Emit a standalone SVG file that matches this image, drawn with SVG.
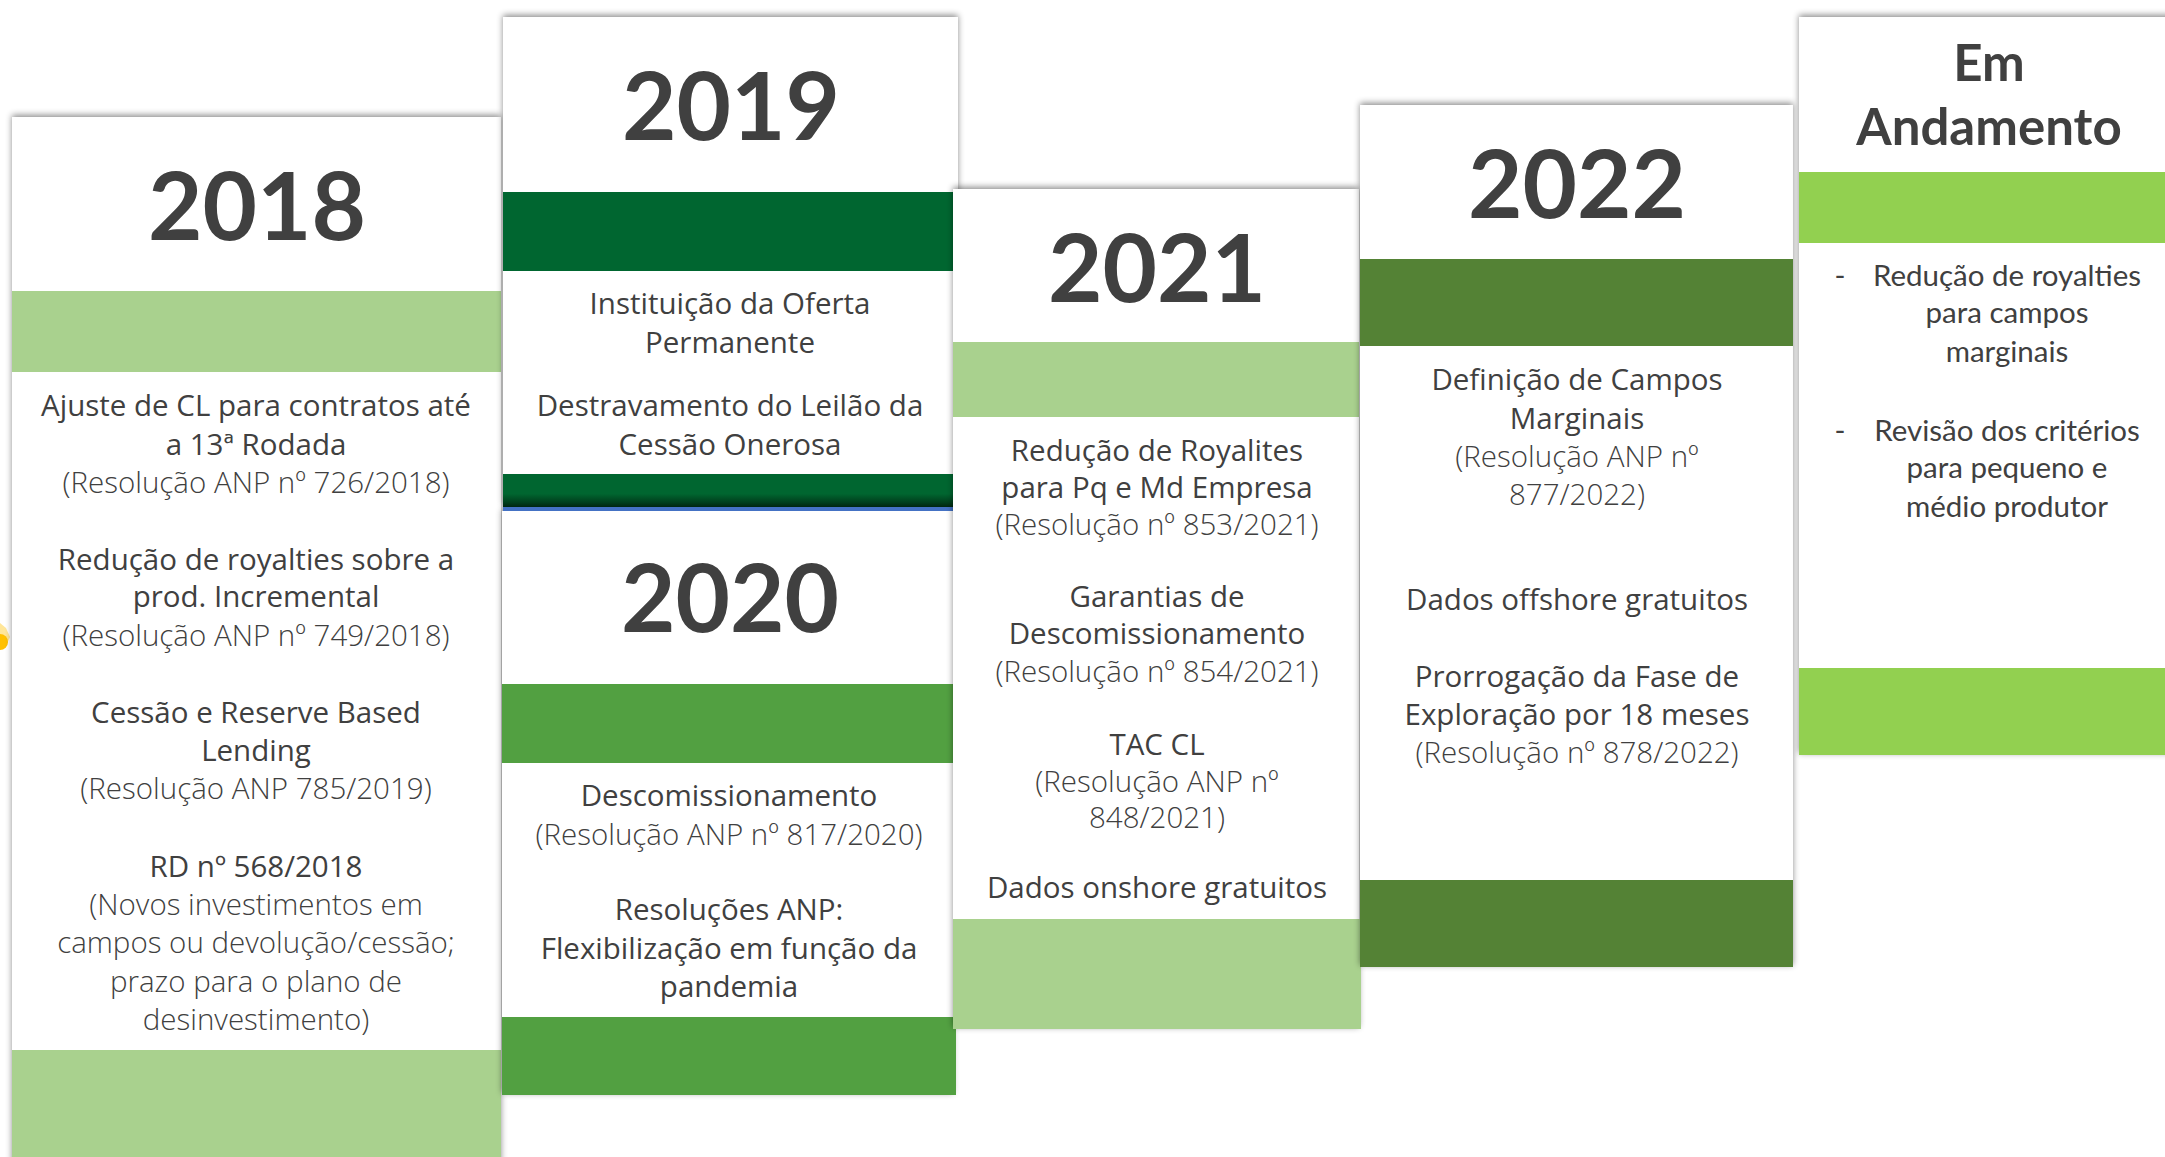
<svg xmlns="http://www.w3.org/2000/svg" width="2165" height="1157" viewBox="0 0 2165 1157">
<defs>
<style>
.bg{fill:#ffffff}
.yr{font-family:Lato,"Open Sans",sans-serif;font-weight:700;font-size:94px;fill:#404040;text-anchor:middle}
.t{font-family:"Open Sans","Noto Sans",sans-serif;font-size:29.5px;fill:#404040;text-anchor:middle}
.l{font-weight:300}
.c{font-family:Lato,"Open Sans",sans-serif;font-size:29.5px;fill:#404040;text-anchor:middle}
.ch{font-family:Lato,"Open Sans",sans-serif;font-weight:700;font-size:51px;fill:#404040;text-anchor:middle}
.lg{fill:#A9D18E}
.dg{fill:#006630}
.mg{fill:#52A041}
.og{fill:#548235}
.bg2{fill:#92D050}
</style>
<filter id="sh" x="-10%" y="-10%" width="120%" height="120%">
<feDropShadow dx="0" dy="-2" stdDeviation="3" flood-color="#000" flood-opacity="0.45"/>
</filter>
<linearGradient id="dgb" x1="0" y1="0" x2="0" y2="1">
<stop offset="0" stop-color="#006630"/>
<stop offset="0.6" stop-color="#006630"/>
<stop offset="1" stop-color="#002a12"/>
</linearGradient>
</defs>
<rect width="2165" height="1157" fill="#ffffff"/>

<g id="icon">
<polygon points="0,623 6,628 10,637 6,646 0,650" fill="#FFE699"/>
<circle cx="0" cy="642" r="8" fill="#FFC000"/>
</g>

<g id="card-2018">
<rect class="bg" x="12" y="117" width="489" height="1060" filter="url(#sh)"/>
<rect class="lg" x="12" y="291" width="489" height="81"/>
<rect class="lg" x="12" y="1050" width="489" height="107"/>
<text class="yr" x="257" y="240">2018</text>
<text class="t" x="256" y="416">Ajuste de CL para contratos até</text>
<text class="t" x="256" y="455">a 13ª Rodada</text>
<text class="t l" x="256" y="493">(Resolução ANP nº 726/2018)</text>
<text class="t" x="256" y="570">Redução de royalties sobre a</text>
<text class="t" x="256" y="607">prod. Incremental</text>
<text class="t l" x="256" y="646">(Resolução ANP nº 749/2018)</text>
<text class="t" x="256" y="723">Cessão e Reserve Based</text>
<text class="t" x="256" y="761">Lending</text>
<text class="t l" x="256" y="799">(Resolução ANP 785/2019)</text>
<text class="t" x="256" y="877">RD nº 568/2018</text>
<text class="t l" x="256" y="915">(Novos investimentos em</text>
<text class="t l" x="256" y="953">campos ou devolução/cessão;</text>
<text class="t l" x="256" y="992">prazo para o plano de</text>
<text class="t l" x="256" y="1030">desinvestimento)</text>
</g>

<g id="card-2019">
<rect class="bg" x="503" y="17" width="455" height="490" filter="url(#sh)"/>
<rect class="dg" x="503" y="192" width="450" height="79"/>
<rect x="503" y="474" width="450" height="33" fill="url(#dgb)"/>
<text class="yr" x="731" y="140">2019</text>
<text class="t" x="730" y="314">Instituição da Oferta</text>
<text class="t" x="730" y="353">Permanente</text>
<text class="t" x="730" y="416">Destravamento do Leilão da</text>
<text class="t" x="730" y="455">Cessão Onerosa</text>
</g>

<g id="card-2020">
<rect class="bg" x="502" y="511" width="451" height="584" filter="url(#sh)"/>
<rect x="503" y="507" width="450" height="4" fill="#4472C4"/>
<rect class="mg" x="502" y="684" width="451" height="79"/>
<rect class="mg" x="502" y="1017" width="454" height="78"/>
<text class="yr" x="730" y="632">2020</text>
<text class="t" x="729" y="806">Descomissionamento</text>
<text class="t l" x="729" y="845">(Resolução ANP nº 817/2020)</text>
<text class="t" x="729" y="920">Resoluções ANP:</text>
<text class="t" x="729" y="959">Flexibilização em função da</text>
<text class="t" x="729" y="997">pandemia</text>
</g>

<g id="card-2021">
<rect class="bg" x="953" y="189" width="406" height="840" filter="url(#sh)"/>
<rect class="lg" x="953" y="342" width="406" height="75"/>
<rect class="lg" x="953" y="919" width="408" height="110"/>
<text class="yr" x="1157" y="302">2021</text>
<text class="t" x="1157" y="461">Redução de Royalites</text>
<text class="t" x="1157" y="498">para Pq e Md Empresa</text>
<text class="t l" x="1157" y="535">(Resolução nº 853/2021)</text>
<text class="t" x="1157" y="607">Garantias de</text>
<text class="t" x="1157" y="644">Descomissionamento</text>
<text class="t l" x="1157" y="682">(Resolução nº 854/2021)</text>
<text class="t" x="1157" y="755">TAC CL</text>
<text class="t l" x="1157" y="792">(Resolução ANP nº</text>
<text class="t l" x="1157" y="828">848/2021)</text>
<text class="t" x="1157" y="898">Dados onshore gratuitos</text>
</g>

<g id="card-2022">
<rect class="bg" x="1360" y="105" width="433" height="862" filter="url(#sh)"/>
<rect class="og" x="1360" y="259" width="433" height="87"/>
<rect class="og" x="1360" y="880" width="433" height="87"/>
<text class="yr" x="1577" y="218">2022</text>
<text class="t" x="1577" y="390">Definição de Campos</text>
<text class="t" x="1577" y="429">Marginais</text>
<text class="t l" x="1577" y="467">(Resolução ANP nº</text>
<text class="t l" x="1577" y="505">877/2022)</text>
<text class="t" x="1577" y="610">Dados offshore gratuitos</text>
<text class="t" x="1577" y="687">Prorrogação da Fase de</text>
<text class="t" x="1577" y="725">Exploração por 18 meses</text>
<text class="t l" x="1577" y="763">(Resolução nº 878/2022)</text>
</g>

<g id="card-andamento">
<rect class="bg" x="1799" y="17" width="380" height="738" filter="url(#sh)"/>
<rect class="bg2" x="1799" y="172" width="366" height="71"/>
<rect class="bg2" x="1799" y="668" width="366" height="87"/>
<text class="ch" x="1989" y="81">Em</text>
<text class="ch" x="1989" y="145">Andamento</text>
<text class="c" x="1840" y="286">-</text>
<text class="c" x="2007" y="286">Redução de royalties</text>
<text class="c" x="2007" y="323">para campos</text>
<text class="c" x="2007" y="362">marginais</text>
<text class="c" x="1840" y="441">-</text>
<text class="c" x="2007" y="441">Revisão dos critérios</text>
<text class="c" x="2007" y="478">para pequeno e</text>
<text class="c" x="2007" y="517">médio produtor</text>
</g>

<g id="connectors"></g>
</svg>
